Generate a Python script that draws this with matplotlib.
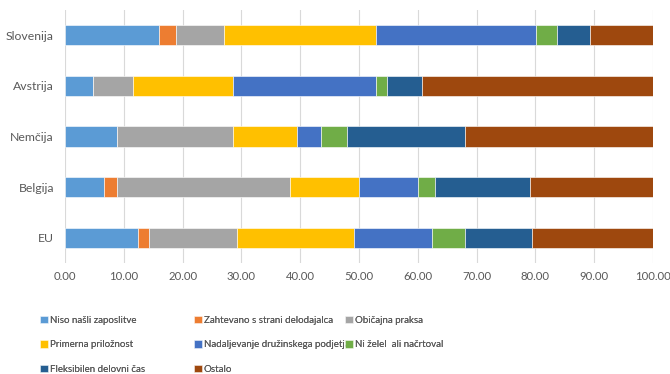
import matplotlib
matplotlib.use("Agg")
import matplotlib.pyplot as plt
import numpy as np

plt.rcParams['font.family'] = ['Lato', 'DejaVu Sans']

countries = ["Slovenija", "Avstrija", "Nemčija", "Belgija", "EU"]
series_names = [
    "Niso našli zaposlitve",
    "Zahtevano s strani delodajalca",
    "Običajna praksa",
    "Primerna priložnost",
    "Nadaljevanje družinskega podjetja",
    "Ni želel  ali načrtoval",
    "Fleksibilen delovni čas",
    "Ostalo",
]
niso = [16.0, 4.8, 8.9, 6.7, 12.4]
zahtevano = [2.9, 0.0, 0.0, 2.2, 1.9]
obicajna = [8.1, 6.7, 19.6, 29.4, 15.0]
primerna = [25.9, 17.0, 11.0, 11.7, 19.8]
nadaljevanje = [27.2, 24.4, 4.0, 10.1, 13.4]
ni_zelel = [3.6, 1.9, 4.5, 2.8, 5.5]
fleksibilen = [5.6, 5.9, 20.1, 16.1, 11.5]
ostalo = [10.7, 39.3, 31.9, 21.0, 20.5]
xticks = [0, 10, 20, 30, 40, 50, 60, 70, 80, 90, 100]

series = [niso, zahtevano, obicajna, primerna, nadaljevanje, ni_zelel, fleksibilen, ostalo]
colors = ["#5B9BD5", "#ED7D31", "#A5A5A5", "#FFC000", "#4472C4", "#70AD47", "#255E91", "#9E480E"]

fig = plt.figure(figsize=(6.7, 3.74), dpi=100)
ax = fig.add_axes([65 / 670, 1 - 263 / 374, (653 - 65) / 670, (263 - 10) / 374])

y = np.arange(len(countries))
left = np.zeros(len(countries))
handles = []
for vals, name, col in zip(series, series_names, colors):
    vals = np.array(vals)
    b = ax.barh(y, vals, left=left, height=0.4, color=col, label=name,
                edgecolor="white", linewidth=0.4, zorder=3)
    handles.append(b)
    left += vals

ax.set_ylim(len(countries) - 0.5, -0.5)
ax.set_xlim(0, 100)
ax.set_yticks(y)
ax.set_yticklabels(countries)
ax.set_xticks(xticks)
ax.set_xticklabels([f"{v:.2f}" for v in xticks])
ax.tick_params(axis="both", length=0, labelcolor="#595959")
ax.tick_params(axis="x", pad=6, labelsize=8.2)
ax.tick_params(axis="y", pad=8, labelsize=8.8)
ax.grid(axis="x", color="#D9D9D9", linewidth=0.8, zorder=0)
for s in ax.spines.values():
    s.set_visible(False)

# legend laid out as three independent columns
col_x = [40 / 670, 194 / 670, 345 / 670]
col_items = [[0, 3, 6], [1, 4, 7], [2, 5]]
for cx, items in zip(col_x, col_items):
    leg = fig.legend([handles[i] for i in items], [series_names[i] for i in items],
                     loc="upper left", bbox_to_anchor=(cx, 1 - 315.5 / 374),
                     frameon=False, labelcolor="#595959", fontsize=7.0,
                     handlelength=0.8, handleheight=0.8, handletextpad=0.2,
                     labelspacing=1.6, borderaxespad=0, borderpad=0)
    fig.add_artist(leg)

fig.savefig("out.png", dpi=100)
